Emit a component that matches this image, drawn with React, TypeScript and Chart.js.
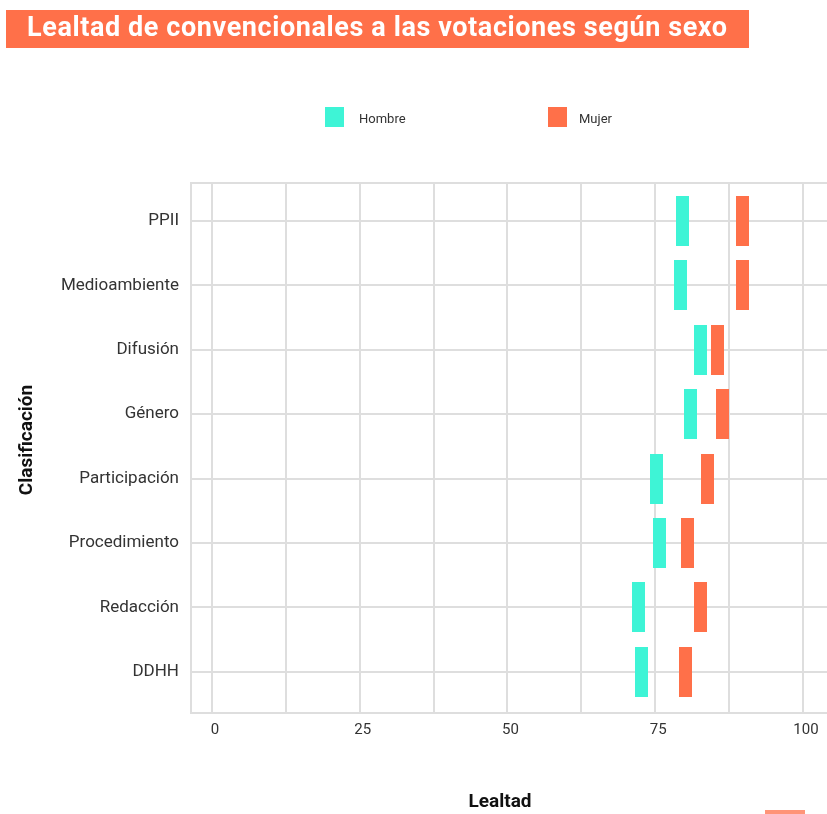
import React, { useEffect, useRef } from 'react';
import { Chart, registerables } from 'chart.js';

Chart.register(...registerables);

const categories = ['PPII', 'Medioambiente', 'Difusión', 'Género', 'Participación', 'Procedimiento', 'Redacción', 'DDHH'];
const hombre = [79.7, 79.3, 82.7, 81.0, 75.2, 75.8, 72.2, 72.7];
const mujer = [89.8, 89.7, 85.5, 86.4, 83.8, 80.4, 82.7, 80.2];
const seriesNames = ['Hombre', 'Mujer'];
const xGridValues = [0, 12.5, 25, 37.5, 50, 62.5, 75, 87.5, 100];
const xTickLabels = [0, 25, 50, 75, 100];

const TITLE = 'Lealtad de convencionales a las votaciones según sexo';
const X_TITLE = 'Lealtad';
const Y_TITLE = 'Clasificación';

const TEAL = '#3EF4D6';
const ORANGE = '#FF7049';
const GRID = '#DEDEDE';
const FONT = 'Roboto, "DejaVu Sans", sans-serif';

const CANVAS_W = 832;

function makeMarker(color: string) {
  const c = document.createElement('canvas');
  c.width = 13;
  c.height = 50;
  const g = c.getContext('2d')!;
  g.fillStyle = color;
  g.fillRect(0, 0, 13, 50);
  return c;
}

function fitText(ctx: any, text: string, left: number, y: number, target: number) {
  ctx.letterSpacing = '0px';
  const w = ctx.measureText(text).width;
  const sp = Math.max(0, (target - w) / Math.max(1, text.length - 1));
  ctx.letterSpacing = `${sp}px`;
  ctx.textAlign = 'left';
  ctx.fillText(text, left, y);
  ctx.letterSpacing = '0px';
}

const decorPlugin = {
  id: 'decor',
  beforeDraw(chart: any) {
    const ctx = chart.ctx;
    ctx.save();
    ctx.fillStyle = '#FFFFFF';
    ctx.fillRect(0, 0, chart.width, chart.height);
    // title bar
    ctx.fillStyle = ORANGE;
    ctx.fillRect(6, 10, 743, 38);
    ctx.fillStyle = '#FFFFFF';
    ctx.font = `bold 27px ${FONT}`;
    ctx.textBaseline = 'alphabetic';
    fitText(ctx, TITLE, 27, 36, 700);
    // legend
    const legendPos = [
      { box: 325, text: 359 },
      { box: 548, text: 579 },
    ];
    chart.data.datasets.forEach((ds: any, i: number) => {
      const p = legendPos[i];
      ctx.fillStyle = ds.legendColor;
      ctx.fillRect(p.box, 107, 19, 20);
      ctx.fillStyle = '#333333';
      ctx.font = `13px ${FONT}`;
      ctx.textAlign = 'left';
      ctx.textBaseline = 'middle';
      ctx.fillText(ds.label, p.text, 120);
    });
    ctx.restore();
  },
  beforeDatasetsDraw(chart: any) {
    const ctx = chart.ctx;
    const a = chart.chartArea;
    ctx.save();
    ctx.strokeStyle = GRID;
    ctx.lineWidth = 2;
    ctx.beginPath();
    ctx.moveTo(a.left - 1, a.top);
    ctx.lineTo(a.right, a.top);
    ctx.stroke();
    ctx.restore();
  },
  afterDraw(chart: any) {
    const ctx = chart.ctx;
    ctx.save();
    ctx.fillStyle = '#111111';
    ctx.font = `bold 19px ${FONT}`;
    ctx.textAlign = 'center';
    ctx.textBaseline = 'middle';
    ctx.fillText(X_TITLE, 500, 802);
    ctx.translate(27, 440);
    ctx.rotate(-Math.PI / 2);
    ctx.fillText(Y_TITLE, 0, 0);
    ctx.restore();
    ctx.save();
    ctx.fillStyle = '#FF9478';
    ctx.fillRect(765, 810, 40, 6);
    ctx.restore();
  },
};

export default function App() {
  const ref = useRef<HTMLCanvasElement>(null);

  useEffect(() => {
    if (!ref.current) return;
    const series = [hombre, mujer];
    const colors = [TEAL, ORANGE];
    const chart = new Chart(ref.current, {
      type: 'scatter',
      data: {
        datasets: series.map((vals, si) => ({
          label: seriesNames[si],
          legendColor: colors[si],
          data: categories.map((_, i) => ({ x: vals[i], y: i })),
          pointStyle: makeMarker(colors[si]),
          backgroundColor: colors[si],
          borderColor: colors[si],
        })) as any,
      },
      options: {
        responsive: false,
        animation: false,
        devicePixelRatio: 1,
        layout: { padding: { top: 183, left: 0, right: 0, bottom: 0 } },
        plugins: {
          legend: { display: false },
          tooltip: { enabled: false },
          title: { display: false },
        },
        scales: {
          x: {
            type: 'linear',
            min: -3.55,
            max: 104.07,
            afterBuildTicks: (s: any) => {
              s.ticks = xGridValues.map((v) => ({ value: v }));
            },
            afterFit: (s: any) => {
              s.height = 101;
              s.paddingLeft = 0;
              s.paddingRight = 0;
            },
            grid: { color: GRID, lineWidth: 2, drawTicks: false },
            border: { display: true, color: GRID, width: 2 },
            ticks: {
              autoSkip: false,
              maxRotation: 0,
              padding: 8,
              labelOffset: 3,
              color: '#333333',
              font: { family: FONT, size: 15 },
              callback: (v: any) => (xTickLabels.includes(Number(v)) ? String(v) : ''),
            },
          },
          y: {
            type: 'linear',
            reverse: true,
            min: -0.59,
            max: 7.64,
            afterBuildTicks: (s: any) => {
              s.ticks = categories.map((_, i) => ({ value: i }));
            },
            afterFit: (s: any) => {
              s.width = 191;
              s.paddingTop = 0;
              s.paddingBottom = 0;
            },
            grid: { color: GRID, lineWidth: 2, drawTicks: false },
            border: { display: true, color: GRID, width: 2 },
            ticks: {
              autoSkip: false,
              padding: 12,
              color: '#333333',
              font: { family: FONT, size: 17 },
              callback: (v: any) => categories[Number(v)] ?? '',
            },
          },
        },
      } as any,
      plugins: [decorPlugin],
    });
    return () => chart.destroy();
  }, []);

  return (
    <div style={{ position: 'absolute', left: 0, top: 0, width: 827, height: 814, overflow: 'hidden' }}>
      <canvas
        ref={ref}
        width={CANVAS_W}
        height={814}
        style={{ display: 'block', width: CANVAS_W, height: 814 }}
      />
    </div>
  );
}
